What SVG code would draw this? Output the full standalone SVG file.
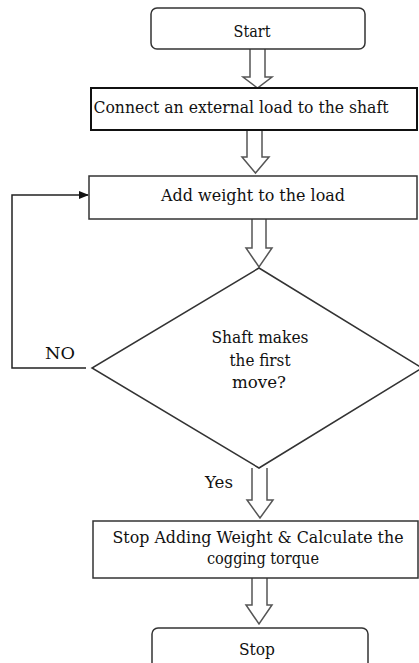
<svg xmlns="http://www.w3.org/2000/svg" width="419" height="663" viewBox="0 0 419 663">
<defs>
<style>
.box{fill:#fff;stroke:#333;stroke-width:1.5}
.bold{fill:#fff;stroke:#111;stroke-width:2}
.blk{fill:#fff;stroke:#555;stroke-width:1.5;stroke-linejoin:miter}
.ln{fill:none;stroke:#222;stroke-width:1.5}
.t{font-family:'DejaVu Serif','Liberation Serif',serif;font-size:16px;fill:#111;text-anchor:middle}
</style>
<marker id="ah" markerWidth="10" markerHeight="8" refX="9" refY="4" orient="auto" markerUnits="userSpaceOnUse">
<path d="M0,0 L10,4 L0,8 Z" fill="#111"/>
</marker>
</defs>
<g id="connectors">
<path class="blk" d="M250,49 V77 H243 L257.5,88 L272,77 H265 V49"/>
<path class="blk" d="M247,130 V157 H242 L255.5,173 L269,157 H262 V130"/>
<path class="blk" d="M252,219 V248 H246 L259,267 L272,248 H266 V219"/>
<path class="blk" d="M252,468 V500 H247 L260,518 L273,500 H267 V468"/>
<path class="blk" d="M252,578 V605 H246 L259,624 L272,605 H267 V578"/>
<path class="ln" d="M86,368 H12 V195 H88" marker-end="url(#ah)"/>
<text class="t" x="60" y="359" textLength="30" lengthAdjust="spacingAndGlyphs">NO</text>
<text class="t" x="219" y="488" textLength="28" lengthAdjust="spacingAndGlyphs">Yes</text>
</g>
<g id="start">
<rect class="box" x="151" y="8" width="214" height="41" rx="6"/>
<text class="t" x="252" y="37" textLength="37" lengthAdjust="spacingAndGlyphs">Start</text>
</g>
<g id="connect">
<rect class="bold" x="91" y="88" width="326" height="42"/>
<text class="t" x="241" y="113" textLength="295" lengthAdjust="spacingAndGlyphs">Connect an external load to the  shaft</text>
</g>
<g id="addweight">
<rect class="box" x="89" y="176" width="328" height="43"/>
<text class="t" x="253" y="201" textLength="184" lengthAdjust="spacingAndGlyphs">Add weight to the load</text>
</g>
<g id="decision">
<polygon class="box" points="259,268 422,368 259,468 92,368"/>
<text class="t" x="260" y="343" textLength="97" lengthAdjust="spacingAndGlyphs">Shaft makes</text>
<text class="t" x="260" y="366" textLength="61" lengthAdjust="spacingAndGlyphs">the first</text>
<text class="t" x="259" y="388" textLength="54" lengthAdjust="spacingAndGlyphs">move?</text>
</g>
<g id="stopadding">
<rect class="box" x="93" y="521" width="325" height="57"/>
<text class="t" x="258" y="543" textLength="291" lengthAdjust="spacingAndGlyphs">Stop Adding Weight &amp; Calculate the</text>
<text class="t" x="263" y="564" textLength="112" lengthAdjust="spacingAndGlyphs">cogging torque</text>
</g>
<g id="stop">
<rect class="box" x="152" y="628" width="216" height="50" rx="6"/>
<text class="t" x="257" y="655" textLength="36" lengthAdjust="spacingAndGlyphs">Stop</text>
</g>
</svg>
